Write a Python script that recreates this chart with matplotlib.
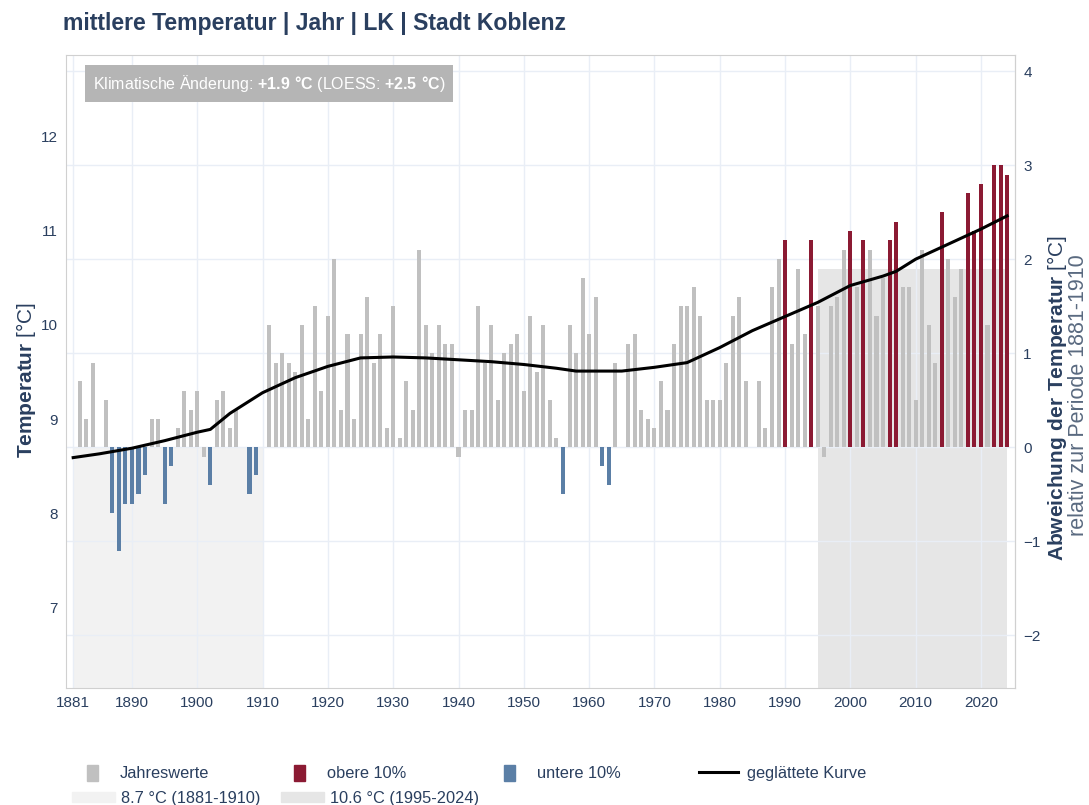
import numpy as np
import matplotlib
matplotlib.use("Agg")
import matplotlib.pyplot as plt
from matplotlib.patches import Patch
from matplotlib.lines import Line2D

plt.rcParams['font.family'] = ['Liberation Sans', 'DejaVu Sans']
plt.rcParams['mathtext.fontset'] = 'custom'
plt.rcParams['mathtext.rm'] = 'Liberation Sans'
plt.rcParams['mathtext.bf'] = 'Liberation Sans:bold'

# Jahresmittel Temperatur (°C), 1881-2024
years = np.arange(1881, 2025)
temps = np.array([
    8.7, 9.4, 9.0, 9.6, 8.7, 9.2, 8.0, 7.6, 8.1, 8.1,      # 1881-1890
    8.2, 8.4, 9.0, 9.0, 8.1, 8.5, 8.9, 9.3, 9.1, 9.3,      # 1891-1900
    8.6, 8.3, 9.2, 9.3, 8.9, 9.1, 8.7, 8.2, 8.4, 8.7,      # 1901-1910
    10.0, 9.6, 9.7, 9.6, 9.5, 10.0, 9.0, 10.2, 9.3, 10.1,  # 1911-1920
    10.7, 9.1, 9.9, 9.0, 9.9, 10.3, 9.6, 9.9, 8.9, 10.2,   # 1921-1930
    8.8, 9.4, 9.1, 10.8, 10.0, 9.7, 10.0, 9.8, 9.8, 8.6,   # 1931-1940
    9.1, 9.1, 10.2, 9.6, 10.0, 9.2, 9.7, 9.8, 9.9, 9.3,    # 1941-1950
    10.1, 9.5, 10.0, 9.2, 8.8, 8.2, 10.0, 9.7, 10.5, 9.9,  # 1951-1960
    10.3, 8.5, 8.3, 9.6, 8.7, 9.8, 9.9, 9.1, 9.0, 8.9,     # 1961-1970
    9.4, 9.1, 9.8, 10.2, 10.2, 10.4, 10.1, 9.2, 9.2, 9.2,  # 1971-1980
    9.6, 10.1, 10.3, 9.4, 8.7, 9.4, 8.9, 10.4, 10.7, 10.9, # 1981-1990
    9.8, 10.6, 9.9, 10.9, 10.2, 8.6, 10.2, 10.3, 10.8, 11.0,  # 1991-2000
    10.4, 10.9, 10.8, 10.1, 10.5, 10.9, 11.1, 10.4, 10.4, 9.2, # 2001-2010
    10.8, 10.0, 9.6, 11.2, 10.7, 10.3, 10.6, 11.4, 11.0, 11.5, # 2011-2020
    10.0, 11.7, 11.7, 11.6,                                # 2021-2024
])

# geglättete Kurve (LOESS)
smooth_years = [1881, 1885, 1890, 1895, 1900, 1902, 1905, 1910, 1915, 1920,
                1925, 1930, 1935, 1940, 1945, 1950, 1955, 1958, 1965, 1970,
                1975, 1980, 1985, 1990, 1995, 2000, 2005, 2007, 2010, 2015,
                2020, 2024]
smooth_vals = [8.59, 8.63, 8.69, 8.77, 8.86, 8.89, 9.06, 9.28, 9.44, 9.56,
               9.65, 9.66, 9.65, 9.63, 9.61, 9.58, 9.54, 9.51, 9.51, 9.55,
               9.60, 9.76, 9.94, 10.09, 10.24, 10.42, 10.52, 10.57, 10.70, 10.86,
               11.02, 11.16]

ref_old = (1881, 1910)
ref_new = (1995, 2024)
xticks = [1881, 1890, 1900, 1910, 1920, 1930, 1940, 1950, 1960, 1970,
          1980, 1990, 2000, 2010, 2020]

c_gray = '#c0c0c0'
c_red = '#8b1a33'
c_blue = '#5b7fa6'
c_old = '#f2f2f2'
c_new = '#e6e6e6'
c_text = '#2a3f5f'

mask_old = (years >= ref_old[0]) & (years <= ref_old[1])
mask_new = (years >= ref_new[0]) & (years <= ref_new[1])
base = round(temps[mask_old].mean(), 1)
mean_new = round(temps[mask_new].mean(), 1)
hi = temps > np.quantile(temps, 0.9)
lo = temps < np.quantile(temps, 0.1)
colors = np.where(hi, c_red, np.where(lo, c_blue, c_gray))

y_lo, y_hi = 6.14, 12.87

fig = plt.figure(figsize=(10.89, 8.05), dpi=100)
ax = fig.add_axes([0.0606, 0.1453, 0.8714, 0.7863])

ax.fill_between(ref_old, y_lo, base, color=c_old, lw=0, zorder=0.5)
ax.fill_between(ref_new, y_lo, mean_new, color=c_new, lw=0, zorder=0.5)
ax.bar(years, temps - base, bottom=base, width=0.62, color=colors, zorder=2)
ax.plot(smooth_years, smooth_vals, color='black', lw=2.2, zorder=3)

ax.set_xlim(1879.9, 2025.2)
ax.set_ylim(y_lo, y_hi)
ax.set_xticks(xticks)
ax.set_yticks([7, 8, 9, 10, 11, 12])
ax.set_yticks(base + np.arange(-2, 5), minor=True)
ax.set_axisbelow('line')
ax.grid(axis='x', color='#e9eef6', lw=1)
ax.grid(axis='y', which='minor', color='#e9eef6', lw=1)
ax.tick_params(which='both', length=0, labelsize=11, colors=c_text, pad=6)
for s in ax.spines.values():
    s.set_color('#d0d0d0')

sec = ax.secondary_yaxis('right', functions=(lambda t: t - base, lambda a: a + base))
sec.set_yticks(np.arange(-2, 5))
sec.tick_params(length=0, labelsize=11, colors=c_text, pad=6)
sec.spines['right'].set_color('#d0d0d0')

# Achsentitel
fig.text(26 / 1089, 1 - 380 / 805, r'$\bf{Temperatur}$ [°C]', rotation=90,
         ha='center', va='center', fontsize=15, color=c_text)
fig.text(1057 / 1089, 1 - 398 / 805, r'$\bf{Abweichung\ der\ Temperatur}$ [°C]', rotation=90,
         ha='center', va='center', fontsize=15, color=c_text)
fig.text(1079 / 1089, 1 - 395 / 805, 'relativ zur Periode 1881-1910', rotation=90,
         ha='center', va='center', fontsize=15.5, color='#5a6a80')

fig.text(0.058, 0.971, 'mittlere Temperatur | Jahr | LK | Stadt Koblenz',
         fontsize=16.6, fontweight='bold', color=c_text, va='center')

change = mean_new - base
loess = smooth_vals[-1] - base
ax.text(0.0285, 0.9545,
        r'Klimatische Änderung: $\bf{%+.1f\ °C}$ (LOESS: $\bf{%+.1f\ °C}$)' % (change, loess),
        transform=ax.transAxes, va='center', ha='left', fontsize=11.5, color='white',
        bbox=dict(boxstyle='square,pad=0.5', fc='#b5b5b5', ec='none'), zorder=5)

# Legende
items = [
    (Patch(color=c_gray), 'Jahreswerte', 87, 773, 0.7, 1.1, 1.3),
    (Patch(color=c_red), 'obere 10%', 294, 773, 0.7, 1.1, 1.3),
    (Patch(color=c_blue), 'untere 10%', 504, 773, 0.7, 1.1, 1.3),
    (Line2D([], [], color='black', lw=2.2), 'geglättete Kurve', 699, 773, 2.4, 0.7, 0.5),
    (Patch(color=c_old), f'{base:.1f} °C ({ref_old[0]}-{ref_old[1]})', 72, 798, 2.6, 0.6, 0.4),
    (Patch(color=c_new), f'{mean_new:.1f} °C ({ref_new[0]}-{ref_new[1]})', 281, 798, 2.6, 0.6, 0.4),
]
for h, lab, px, py, hl, hh, tp in items:
    fig.legend([h], [lab], loc='center left', bbox_to_anchor=(px / 1089, 1 - py / 805),
               frameon=False, borderpad=0, borderaxespad=0, handlelength=hl,
               handleheight=hh, handletextpad=tp, fontsize=11.8, labelcolor=c_text)

fig.savefig('out.png', dpi=100)
